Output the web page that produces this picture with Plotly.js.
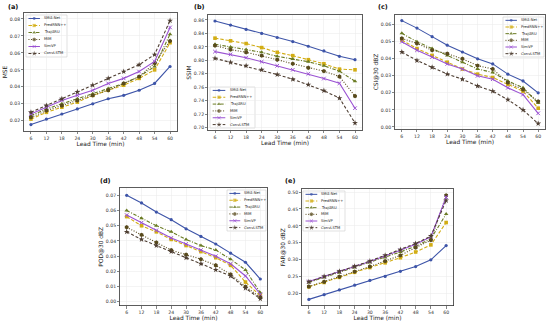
<!DOCTYPE html>
<html><head><meta charset="utf-8">
<script src="https://cdn.plot.ly/plotly-3.0.1.min.js"></script>
<style>html,body{margin:0;padding:0;background:#fff}</style>
</head><body><div id="chart" style="width:550px;height:323px"></div>
<script>
// ---------------- DATA ----------------
const leadTime = [6, 12, 18, 24, 30, 36, 42, 48, 54, 60];
const models = ['SMG-Net', 'PredRNN++', 'TrajGRU', 'MIM', 'SimVP', 'ConvLSTM'];

// rows follow `models` order
const MSE = [
  [0.0178, 0.021, 0.024, 0.027, 0.030, 0.033, 0.035, 0.038, 0.042, 0.052],
  [0.021, 0.025, 0.028, 0.031, 0.035, 0.038, 0.041, 0.045, 0.050, 0.066],
  [0.023, 0.027, 0.030, 0.033, 0.036, 0.039, 0.042, 0.046, 0.052, 0.071],
  [0.022, 0.026, 0.029, 0.032, 0.035, 0.038, 0.042, 0.046, 0.054, 0.067],
  [0.024, 0.028, 0.032, 0.035, 0.038, 0.042, 0.045, 0.049, 0.055, 0.075],
  [0.025, 0.029, 0.033, 0.037, 0.041, 0.045, 0.049, 0.053, 0.059, 0.079]
];
const SSIM = [
  [0.8585, 0.8525, 0.846, 0.840, 0.834, 0.828, 0.821, 0.814, 0.806, 0.801],
  [0.833, 0.829, 0.825, 0.819, 0.812, 0.807, 0.801, 0.795, 0.787, 0.786],
  [0.824, 0.820, 0.816, 0.812, 0.806, 0.802, 0.798, 0.792, 0.784, 0.769],
  [0.822, 0.816, 0.812, 0.807, 0.801, 0.795, 0.789, 0.784, 0.776, 0.747],
  [0.813, 0.809, 0.804, 0.798, 0.792, 0.786, 0.780, 0.773, 0.766, 0.729],
  [0.803, 0.797, 0.792, 0.786, 0.779, 0.772, 0.764, 0.755, 0.744, 0.707]
];
const CSI30 = [
  [0.0624, 0.058, 0.053, 0.048, 0.044, 0.040, 0.037, 0.031, 0.027, 0.020],
  [0.051, 0.046, 0.042, 0.038, 0.034, 0.031, 0.029, 0.025, 0.021, 0.011],
  [0.055, 0.050, 0.046, 0.042, 0.038, 0.034, 0.032, 0.027, 0.023, 0.014],
  [0.052, 0.049, 0.045, 0.043, 0.040, 0.036, 0.034, 0.026, 0.022, 0.015],
  [0.050, 0.045, 0.041, 0.037, 0.034, 0.030, 0.028, 0.023, 0.019, 0.008],
  [0.044, 0.039, 0.035, 0.031, 0.028, 0.024, 0.021, 0.016, 0.010, 0.002]
];
const POD30 = [
  [0.070, 0.065, 0.059, 0.054, 0.048, 0.043, 0.038, 0.032, 0.026, 0.015],
  [0.056, 0.050, 0.046, 0.041, 0.037, 0.033, 0.029, 0.024, 0.013, 0.004],
  [0.060, 0.055, 0.050, 0.046, 0.041, 0.037, 0.034, 0.028, 0.021, 0.006],
  [0.049, 0.044, 0.039, 0.034, 0.031, 0.028, 0.024, 0.018, 0.010, 0.003],
  [0.057, 0.052, 0.047, 0.042, 0.038, 0.034, 0.030, 0.025, 0.017, 0.005],
  [0.046, 0.041, 0.037, 0.033, 0.029, 0.025, 0.021, 0.017, 0.009, 0.002]
];
const FAR30 = [
  [0.183, 0.197, 0.211, 0.225, 0.239, 0.251, 0.266, 0.280, 0.300, 0.342],
  [0.220, 0.233, 0.248, 0.263, 0.277, 0.291, 0.306, 0.323, 0.344, 0.410],
  [0.233, 0.248, 0.262, 0.277, 0.292, 0.307, 0.323, 0.340, 0.362, 0.435],
  [0.221, 0.235, 0.250, 0.265, 0.280, 0.296, 0.313, 0.336, 0.358, 0.490],
  [0.236, 0.250, 0.265, 0.280, 0.295, 0.311, 0.328, 0.346, 0.368, 0.485],
  [0.235, 0.251, 0.266, 0.281, 0.296, 0.313, 0.330, 0.348, 0.370, 0.475]
];

// ---------------- STYLES / LAYOUT ----------------
const W = 550, H = 323;
const FONT = 'DejaVu Sans, Liberation Sans, sans-serif';
const styles = [
  {color: '#3d54a8', dash: 'solid', symbol: 'circle', size: 3.2},
  {color: '#d2ad14', dash: '3.5px,1.8px', symbol: 'square', size: 3.6},
  {color: '#6a7b23', dash: '3.5px,1.5px,1px,1.5px', symbol: 'triangle-up', size: 4},
  {color: '#584a1c', dash: '1px,1.6px', symbol: 'hexagon', size: 4.4},
  {color: '#9a52d2', dash: 'solid', symbol: 'x-thin-open', size: 3.6},
  {color: '#4e3e32', dash: '3px,2px', symbol: 'star', size: 4.4}
];

const panels = [
  {label: '(a)', ytitle: 'MSE', data: MSE, box: [24, 177, 13, 131], yrange: [0.014, 0.0835], dtick: 0.01, fmt: '.2f', leg: [26, 67, 15, 57], lab: [6, 7]},
  {label: '(b)', ytitle: 'SSIM', data: SSIM, box: [208, 362, 15, 130], yrange: [0.6966, 0.8674], dtick: 0.02, fmt: '.2f', leg: [210, 255, 87, 128], lab: [192, 7]},
  {label: '(c)', ytitle: 'CSI@30 dBZ', data: CSI30, box: [395, 545, 15, 129], yrange: [-0.0012, 0.0657], dtick: 0.01, fmt: '.2f', leg: [503, 544, 17, 57], lab: [376, 7]},
  {label: '(d)', ytitle: 'POD@30 dBZ', data: POD30, box: [120, 267, 188, 305.5], yrange: [-0.0024, 0.0748], dtick: 0.01, fmt: '.2f', leg: [227, 266, 190, 231], lab: [98, 181]},
  {label: '(e)', ytitle: 'FAR@30 dBZ', data: FAR30, box: [302, 453, 189, 305.5], yrange: [0.165, 0.509], dtick: 0.05, fmt: '.2f', leg: [303, 345, 191, 231], lab: [283, 181]}
];

const px2x = v => v / W;
const px2y = v => 1 - v / H;

const traces = [];
const layout = {
  width: W, height: H,
  margin: {l: 0, r: 0, t: 0, b: 0},
  paper_bgcolor: '#ffffff', plot_bgcolor: 'rgba(0,0,0,0)',
  showlegend: false, hovermode: false,
  font: {family: FONT, color: '#222'},
  annotations: [], shapes: []
};

panels.forEach((p, k) => {
  const n = k + 1;
  const xid = n === 1 ? 'x' : 'x' + n;
  const yid = n === 1 ? 'y' : 'y' + n;
  const xk = n === 1 ? 'xaxis' : 'xaxis' + n;
  const yk = n === 1 ? 'yaxis' : 'yaxis' + n;
  const common = {
    showline: true, mirror: true, linecolor: '#333', linewidth: 0.8,
    ticks: 'outside', ticklen: 2.2, tickwidth: 0.6, tickcolor: '#333',
    showgrid: true, gridcolor: '#e9e9e9', gridwidth: 0.5, zeroline: false,
    tickfont: {family: FONT, size: 4.6, color: '#333'}, fixedrange: true
  };
  layout[xk] = Object.assign({}, common, {
    domain: [px2x(p.box[0]), px2x(p.box[1])], anchor: yid,
    range: [3.3, 62.7], tickmode: 'array', tickvals: leadTime, ticktext: leadTime.map(String),
    title: {text: 'Lead Time (min)', font: {family: FONT, size: 5.9, color: '#222'}, standoff: 1}
  });
  layout[yk] = Object.assign({}, common, {
    domain: [px2y(p.box[3]), px2y(p.box[2])], anchor: xid,
    range: p.yrange, dtick: p.dtick, tick0: 0, tickformat: p.fmt,
    title: {text: p.ytitle, font: {family: FONT, size: 5.9, color: '#222'}, standoff: 1}
  });

  // data lines
  models.forEach((m, i) => {
    const s = styles[i];
    traces.push({
      type: 'scatter', mode: 'lines+markers', name: m, x: leadTime, y: p.data[i],
      xaxis: xid, yaxis: yid, cliponaxis: false,
      line: {color: s.color, width: 1.1, dash: s.dash},
      marker: {color: s.color, size: s.size, symbol: s.symbol, line: {color: s.color, width: s.symbol === 'x-thin-open' ? 1 : 0}}
    });
  });

  // custom legend on its own small axes
  const ln = n + 5;
  const lx = 'x' + ln, ly = 'y' + ln;
  layout['xaxis' + ln] = {domain: [px2x(p.leg[0]), px2x(p.leg[1])], range: [0, 1], anchor: ly, visible: false, fixedrange: true};
  layout['yaxis' + ln] = {domain: [px2y(p.leg[3]), px2y(p.leg[2])], range: [0, 6], anchor: lx, visible: false, fixedrange: true};
  layout.shapes.push({
    type: 'rect', xref: lx + ' domain', yref: ly + ' domain', x0: 0, x1: 1, y0: 0, y1: 1,
    line: {color: '#cfcfcf', width: 0.6}, fillcolor: 'rgba(255,255,255,0.85)', layer: 'below'
  });
  models.forEach((m, i) => {
    const s = styles[i];
    const yy = 5.5 - i;
    traces.push({
      type: 'scatter', mode: 'lines+markers', x: [0.06, 0.2, 0.34], y: [yy, yy, yy],
      xaxis: lx, yaxis: ly, showlegend: false, cliponaxis: false,
      line: {color: s.color, width: 1.0, dash: s.dash},
      marker: {color: s.color, size: [0, s.size * 0.9, 0], symbol: s.symbol, line: {color: s.color, width: s.symbol === 'x-thin-open' ? 0.9 : 0}}
    });
    layout.annotations.push({
      xref: lx, yref: ly, x: 0.39, y: yy, text: m, showarrow: false,
      xanchor: 'left', yanchor: 'middle', font: {family: FONT, size: 3.7, color: '#222'}
    });
  });

  // panel label
  layout.annotations.push({
    xref: 'paper', yref: 'paper', x: px2x(p.lab[0]), y: px2y(p.lab[1]), text: '<b>' + p.label + '</b>',
    showarrow: false, xanchor: 'left', yanchor: 'middle', font: {family: FONT, size: 6.5, color: '#111'}
  });
});

Plotly.newPlot('chart', traces, layout, {staticPlot: true, displayModeBar: false});
</script>
</body></html>
